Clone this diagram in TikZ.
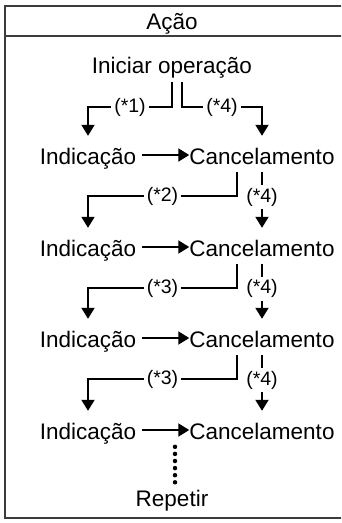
\documentclass[tikz,border=0pt]{standalone}
\usepackage{fontspec}
\setmainfont{Liberation Sans}
\usetikzlibrary{arrows.meta, calc}
\definecolor{DG}{RGB}{60,60,60}

\begin{document}
\begin{tikzpicture}[
  x=1pt, y=-1pt,
  txt/.style={inner sep=0pt, text height=16pt, text depth=5pt, anchor=base,
              font=\fontsize{22.5}{27}\selectfont},
  lbl/.style={fill=white, inner sep=3pt, font=\fontsize{19.5}{22}\selectfont},
  arr/.style={-{Triangle[length=11pt, width=13pt]}, line width=2pt},
  frame/.style={draw=DG, line width=1.1pt},
  dots/.style={line width=4.5pt, line cap=round, dash pattern=on 0pt off 7.1pt}
]
\clip (0,0) rectangle (341,523);
% Frame
\draw[frame] (345,6) -- (5,6) -- (5,518) -- (345,518);
\draw[frame] (5,36) -- (345,36);
\node[txt] (acao) at (172,29) {Ação};

% Start
\node[txt] (start) at (172,73) {Iniciar operação};

% Rows
\foreach \i/\b in {1/164, 2/256, 3/347, 4/439} {
  \node[txt] (ind\i) at (88,\b) {Indicação};
  \node[txt] (can\i) at (262,\b) {Cancelamento};
  \draw[arr] ([shift={(6pt,9pt)}]ind\i.base east) -- ([yshift=9pt]can\i.base west);
}

% From start
\draw[arr] ([yshift=-4pt]start.south) -- ++(0,25)
  -| node[lbl, pos=0.25] {(*1)} ([yshift=12pt]ind1.north);
\draw[arr] ([shift={(10pt,-4pt)}]start.south) -- ++(0,25)
  -| node[lbl, pos=0.25] {(*4)} ([yshift=12pt]can1.north);

% Between rows
\foreach \i/\j/\n in {1/2/2, 2/3/3, 3/4/3} {
  \draw[arr] ([shift={(-25pt,-3pt)}]can\i.south) -- ++(0,24)
    -| node[lbl, pos=0.25] {(*\n)} ([yshift=12pt]ind\j.north);
  \draw[arr] ([yshift=-3pt]can\i.south)
    -- node[lbl, pos=0.45] {(*4)} ([yshift=12pt]can\j.north);
}

% Repeat
\node[txt] (rep) at (172,506) {Repetir};
\draw[dots] ([shift={(3pt,43pt)}]rep.north) -- ([shift={(3pt,7pt)}]rep.north);
\end{tikzpicture}
\end{document}
